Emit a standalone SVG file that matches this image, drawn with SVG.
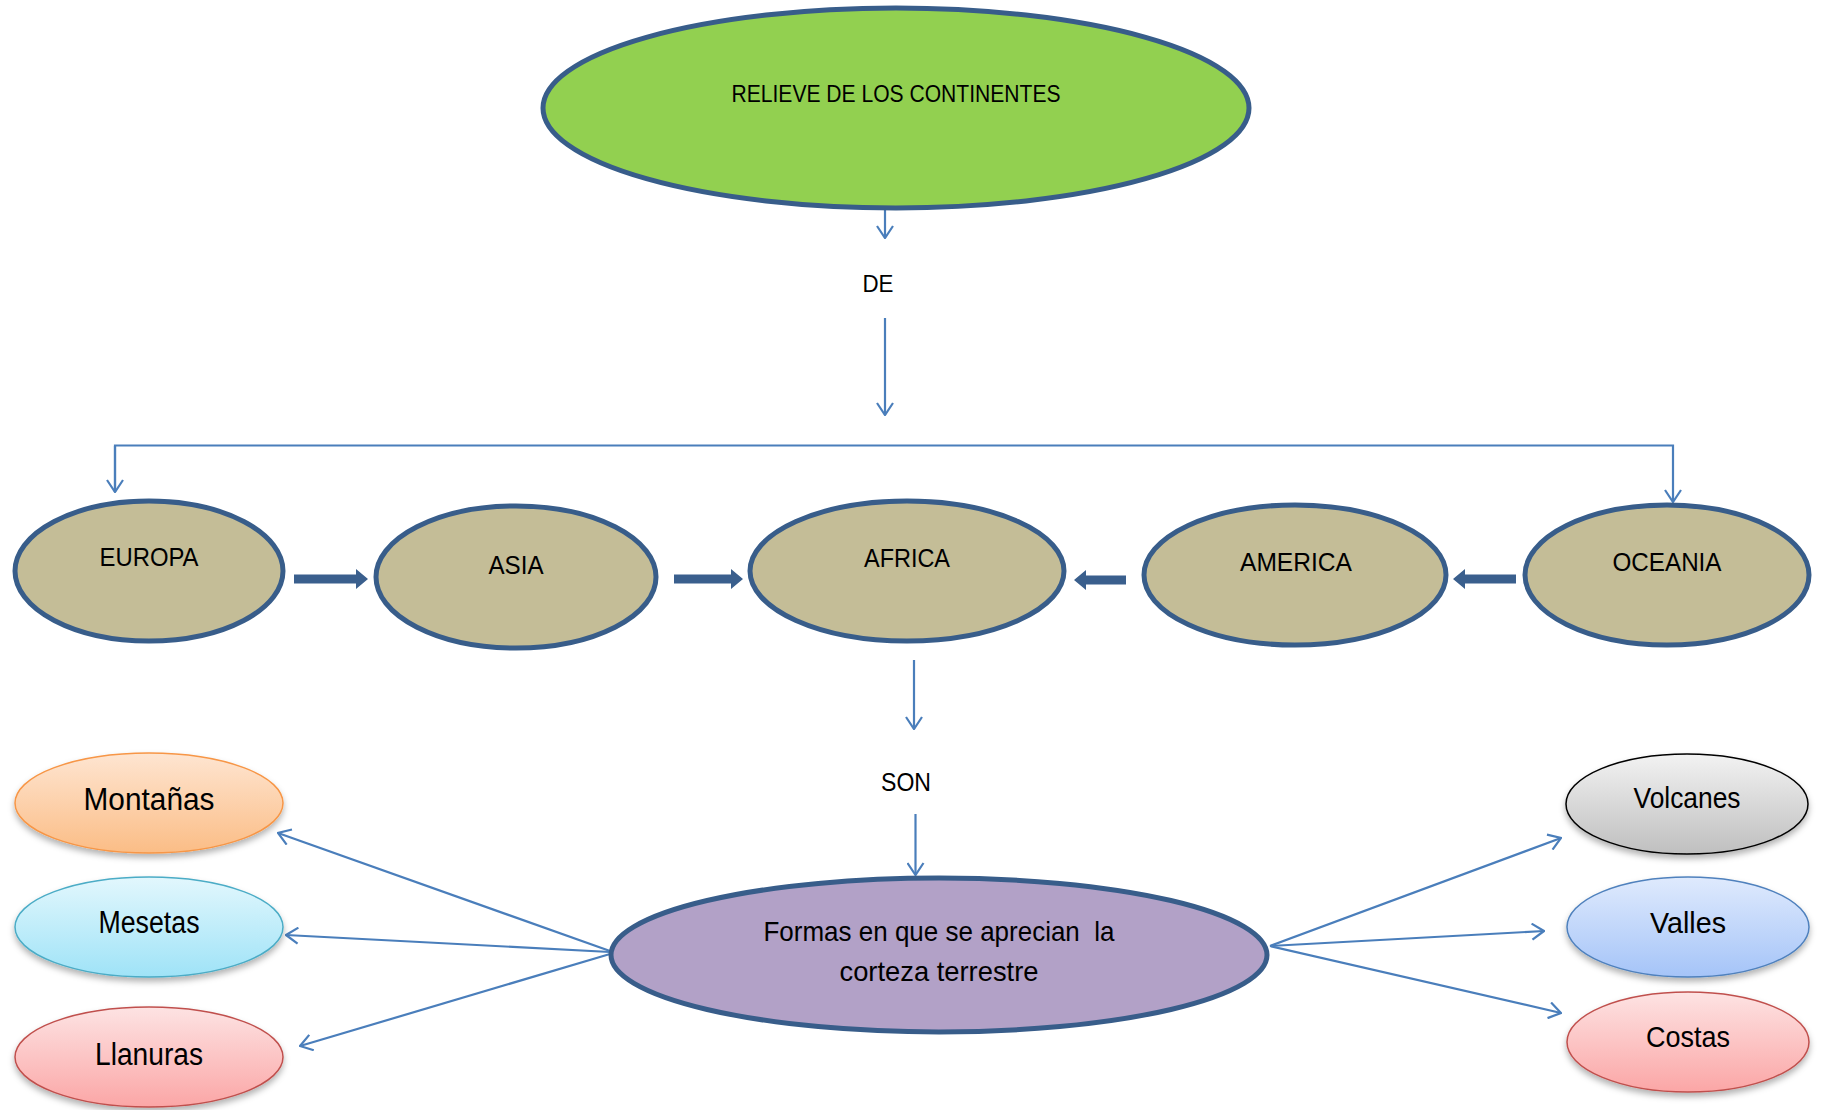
<svg xmlns="http://www.w3.org/2000/svg" width="1824" height="1110" viewBox="0 0 1824 1110">
<style>
.t{font-family:"Liberation Sans",Arial,sans-serif;fill:#000;text-anchor:middle}
.main{stroke:#385d8a;stroke-width:5}
.cont{fill:#c4bd97;stroke:#385d8a;stroke-width:5}
.con{fill:none;stroke:#4a7ebb;stroke-width:2.2}
.blk{fill:#3a5f8d}
</style>
<defs>
<marker id="ah" viewBox="0 0 14 18" refX="13" refY="9" markerWidth="14" markerHeight="18" markerUnits="userSpaceOnUse" orient="auto">
<path d="M1,1 L13,9 L1,17" fill="none" stroke="#4a7ebb" stroke-width="2.2"/>
</marker>
<filter id="sh" x="-10%" y="-10%" width="120%" height="135%">
<feDropShadow dx="0" dy="4" stdDeviation="3" flood-color="#000" flood-opacity="0.3"/>
</filter>
<linearGradient id="gOr" x1="0" y1="0" x2="0" y2="1"><stop offset="0" stop-color="#fee5d1"/><stop offset="1" stop-color="#fbbd86"/></linearGradient>
<linearGradient id="gCy" x1="0" y1="0" x2="0" y2="1"><stop offset="0" stop-color="#e2f7fd"/><stop offset="1" stop-color="#9fe3f7"/></linearGradient>
<linearGradient id="gRd" x1="0" y1="0" x2="0" y2="1"><stop offset="0" stop-color="#fde3e3"/><stop offset="1" stop-color="#fba6a6"/></linearGradient>
<linearGradient id="gGy" x1="0" y1="0" x2="0" y2="1"><stop offset="0" stop-color="#f2f2f2"/><stop offset="1" stop-color="#bfbfbf"/></linearGradient>
<linearGradient id="gBl" x1="0" y1="0" x2="0" y2="1"><stop offset="0" stop-color="#dfeafd"/><stop offset="1" stop-color="#a5c4f8"/></linearGradient>
</defs>

<g id="connectors">
<line class="con" x1="885" y1="210" x2="885" y2="238" marker-end="url(#ah)"/>
<line class="con" x1="885" y1="318" x2="885" y2="415" marker-end="url(#ah)"/>
<polyline class="con" points="115,492 115,445.5 1673,445.5 1673,502" marker-end="url(#ah)"/>
<line class="con" x1="115" y1="446" x2="115" y2="492" marker-end="url(#ah)"/>
<line class="con" x1="914" y1="660" x2="914" y2="729" marker-end="url(#ah)"/>
<line class="con" x1="915.5" y1="814" x2="915.5" y2="875" marker-end="url(#ah)"/>
<line class="con" x1="610" y1="951" x2="278" y2="833" marker-end="url(#ah)"/>
<line class="con" x1="610" y1="952" x2="286" y2="935" marker-end="url(#ah)"/>
<line class="con" x1="610" y1="954" x2="300" y2="1046" marker-end="url(#ah)"/>
<line class="con" x1="1270" y1="946" x2="1561" y2="838" marker-end="url(#ah)"/>
<line class="con" x1="1270" y1="946" x2="1544" y2="931" marker-end="url(#ah)"/>
<line class="con" x1="1270" y1="946" x2="1561" y2="1013" marker-end="url(#ah)"/>
<polygon class="blk" points="294,574.5 356,574.5 356,569 368,579 356,589 356,583.5 294,583.5"/>
<polygon class="blk" points="674,574.5 731,574.5 731,569 743,579 731,589 731,583.5 674,583.5"/>
<polygon class="blk" points="1126,575.5 1086,575.5 1086,570 1074,580 1086,590 1086,584.5 1126,584.5"/>
<polygon class="blk" points="1516,574.5 1465,574.5 1465,569 1453,579 1465,589 1465,583.5 1516,583.5"/>
</g>

<g id="relieve">
<ellipse class="main" cx="896" cy="108" rx="353" ry="100" fill="#92d050"/>
<text class="t" x="896" y="101.5" font-size="24" textLength="329" lengthAdjust="spacingAndGlyphs">RELIEVE DE LOS CONTINENTES</text>
</g>
<g id="de"><text class="t" x="878" y="292" font-size="24" textLength="31" lengthAdjust="spacingAndGlyphs">DE</text></g>

<g id="europa">
<ellipse class="cont" cx="149" cy="571" rx="134" ry="70"/>
<text class="t" x="149" y="565.5" font-size="26" textLength="99" lengthAdjust="spacingAndGlyphs">EUROPA</text>
</g>
<g id="asia">
<ellipse class="cont" cx="516" cy="577" rx="140" ry="71"/>
<text class="t" x="516" y="573.5" font-size="26" textLength="55" lengthAdjust="spacingAndGlyphs">ASIA</text>
</g>
<g id="africa">
<ellipse class="cont" cx="907" cy="571" rx="157" ry="70"/>
<text class="t" x="907" y="566.5" font-size="26" textLength="86" lengthAdjust="spacingAndGlyphs">AFRICA</text>
</g>
<g id="america">
<ellipse class="cont" cx="1295" cy="575" rx="151" ry="70"/>
<text class="t" x="1296" y="570.5" font-size="26" textLength="112" lengthAdjust="spacingAndGlyphs">AMERICA</text>
</g>
<g id="oceania">
<ellipse class="cont" cx="1667" cy="575" rx="142" ry="70"/>
<text class="t" x="1667" y="570.5" font-size="26" textLength="109" lengthAdjust="spacingAndGlyphs">OCEANIA</text>
</g>

<g id="son"><text class="t" x="906" y="791" font-size="25" textLength="50" lengthAdjust="spacingAndGlyphs">SON</text></g>

<g id="formas">
<ellipse class="main" cx="939" cy="955" rx="328" ry="77" fill="#b2a1c7"/>
<text class="t" x="939" y="941" font-size="28" textLength="351" lengthAdjust="spacingAndGlyphs" xml:space="preserve">Formas en que se aprecian  la</text>
<text class="t" x="939" y="981" font-size="28" textLength="199" lengthAdjust="spacingAndGlyphs">corteza terrestre</text>
</g>

<g id="montanas">
<ellipse cx="149" cy="803" rx="134" ry="50" fill="url(#gOr)" stroke="#f79646" stroke-width="1.5" filter="url(#sh)"/>
<text class="t" x="149" y="810" font-size="31" textLength="131" lengthAdjust="spacingAndGlyphs">Montañas</text>
</g>
<g id="mesetas">
<ellipse cx="149" cy="927" rx="134" ry="50" fill="url(#gCy)" stroke="#4bacc6" stroke-width="1.5" filter="url(#sh)"/>
<text class="t" x="149" y="933" font-size="31" textLength="101" lengthAdjust="spacingAndGlyphs">Mesetas</text>
</g>
<g id="llanuras">
<ellipse cx="149" cy="1057" rx="134" ry="50" fill="url(#gRd)" stroke="#c0504d" stroke-width="1.5" filter="url(#sh)"/>
<text class="t" x="149" y="1065" font-size="31" textLength="108" lengthAdjust="spacingAndGlyphs">Llanuras</text>
</g>
<g id="volcanes">
<ellipse cx="1687" cy="804" rx="121" ry="50" fill="url(#gGy)" stroke="#000" stroke-width="1.5" filter="url(#sh)"/>
<text class="t" x="1687" y="808" font-size="29" textLength="107" lengthAdjust="spacingAndGlyphs">Volcanes</text>
</g>
<g id="valles">
<ellipse cx="1688" cy="927" rx="121" ry="50" fill="url(#gBl)" stroke="#4f81bd" stroke-width="1.5" filter="url(#sh)"/>
<text class="t" x="1688" y="933" font-size="30" textLength="76" lengthAdjust="spacingAndGlyphs">Valles</text>
</g>
<g id="costas">
<ellipse cx="1688" cy="1042" rx="121" ry="50" fill="url(#gRd)" stroke="#c0504d" stroke-width="1.5" filter="url(#sh)"/>
<text class="t" x="1688" y="1047" font-size="30" textLength="84" lengthAdjust="spacingAndGlyphs">Costas</text>
</g>
</svg>
